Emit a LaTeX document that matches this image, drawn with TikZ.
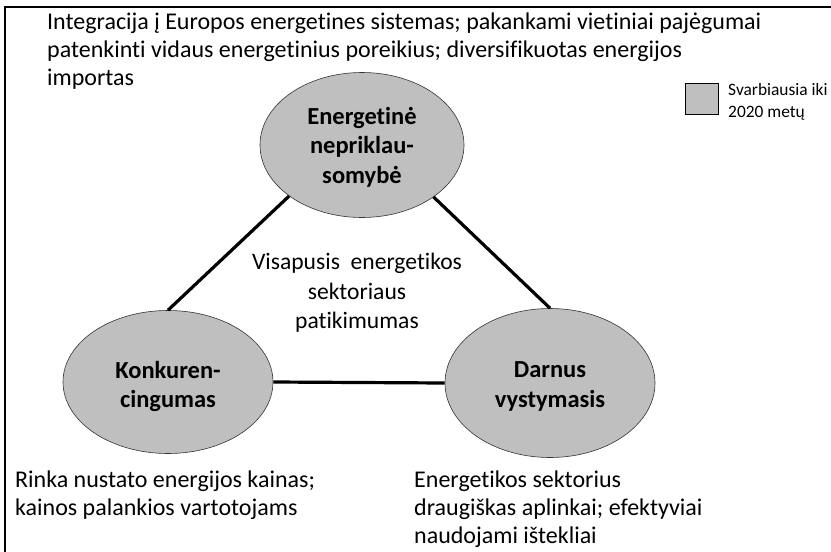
\documentclass[tikz,border=0pt]{standalone}
\usepackage{fontspec}
\setmainfont{Carlito}[Ligatures={NoCommon}]
\usetikzlibrary{shapes.geometric}
\begin{document}
\begin{tikzpicture}[x=1pt,y=-1pt,
  goal/.style={ellipse,draw=black!80,line width=0.6pt,fill=black!25,inner sep=0pt},
  lbl/.style={inner sep=0pt,align=center,font=\fontsize{24.5}{29.5}\selectfont\bfseries},
  link/.style={line width=3.2pt,black},
  txt/.style={inner sep=0pt,font=\fontsize{24}{28}\selectfont},
  legtxt/.style={inner sep=0pt,anchor=base west,font=\fontsize{17.4}{21.5}\selectfont}]
\useasboundingbox (0,0) rectangle (831,552);
\fill[white] (0,0) rectangle (831,552);
\draw[line width=2.2pt] (831,7) -| (5,552);
% ellipses
\node[goal,minimum width=204pt,minimum height=145pt] (ind) at (362,145) {};
\node[goal,minimum width=210pt,minimum height=143pt] (kon) at (168,382) {};
\node[goal,minimum width=210pt,minimum height=149pt] (dar) at (550,383) {};
\node[lbl] (indl) at ([yshift=-2pt]ind.center) {Energetinė\\nepriklau-\\somybė};
\node[lbl] (konl) at ([yshift=-4.5pt]kon.center) {Konkuren-\\cingumas};
\node[lbl] (darl) at ([yshift=-3.5pt]dar.center) {Darnus\\vystymasis};
% connectors
\draw[link] (ind.215) -- (kon.90);
\draw[link] (ind.-36) -- (dar.90);
\draw[link] (kon.0) -- (dar.180);
% texts
\node[txt,anchor=north west,align=left] (top) at (47,12.5)
  {Integracija į Europos energetines sistemas; pakankami vietiniai pajėgumai\\
   patenkinti vidaus energetinius poreikius; diversifikuotas energijos\\
   importas};
\node[txt,align=center,font=\fontsize{23.6}{29.5}\selectfont] (mid) at (357,293) {Visapusis\ \ energetikos\\sektoriaus\\patikimumas};
\node[txt,anchor=north west,align=left] (bl) at (15,471)
  {Rinka nustato energijos kainas;\\kainos palankios vartotojams};
\node[txt,anchor=north west,align=left] (br) at (414,471)
  {Energetikos sektorius\\draugiškas aplinkai; efektyviai\\naudojami ištekliai};
% legend
\node[draw=black,line width=1pt,fill=black!25,minimum width=33pt,minimum height=31pt,inner sep=0pt] (legbox) at (701.5,98.5) {};
\node[legtxt] (leg1) at (728,95) {Svarbiausia iki};
\node[legtxt] (leg2) at (728,117) {2020 metų};
\end{tikzpicture}
\end{document}
